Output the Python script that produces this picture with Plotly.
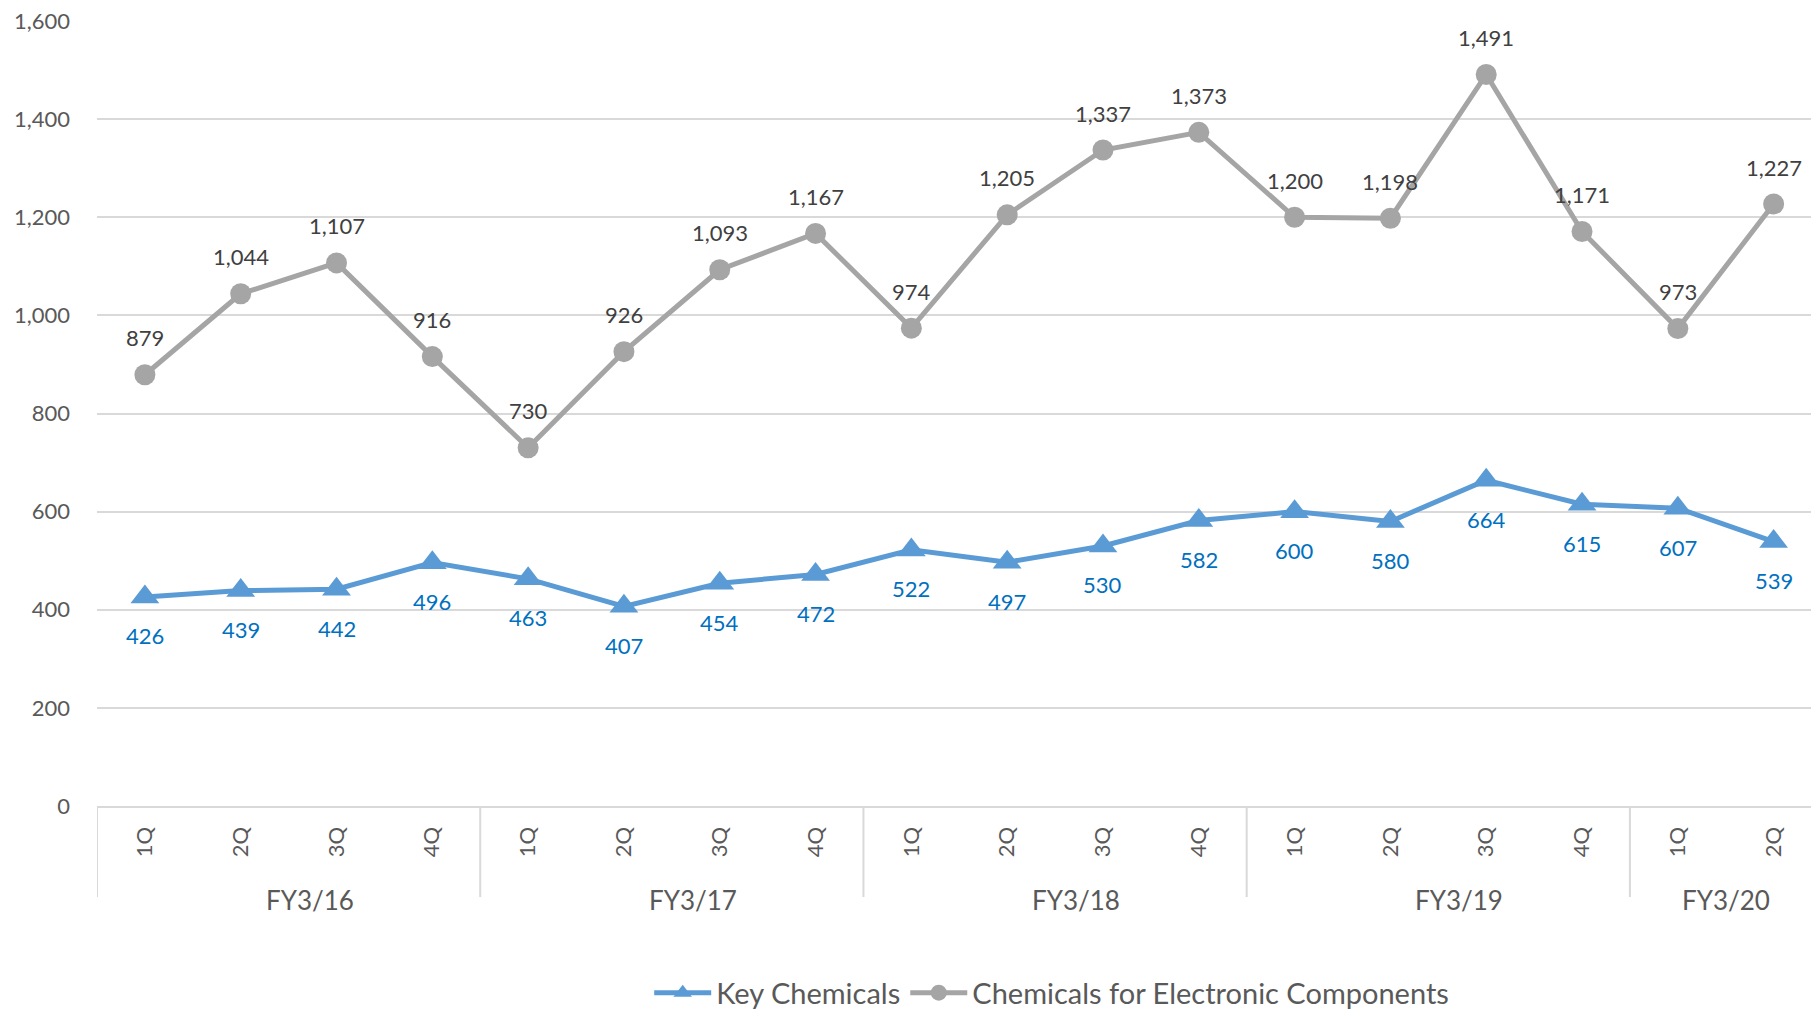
import plotly.graph_objects as go

# Quarterly figures by fiscal year
fiscal_years = ["FY3/16", "FY3/17", "FY3/18", "FY3/19", "FY3/20"]
quarters_per_year = [4, 4, 4, 4, 2]
quarter_labels = ["1Q", "2Q", "3Q", "4Q"] * 4 + ["1Q", "2Q"]

key_chemicals = [426, 439, 442, 496, 463, 407, 454, 472, 522, 497,
                 530, 582, 600, 580, 664, 615, 607, 539]
electronic_chemicals = [879, 1044, 1107, 916, 730, 926, 1093, 1167, 974, 1205,
                        1337, 1373, 1200, 1198, 1491, 1171, 973, 1227]

y_ticks = [0, 200, 400, 600, 800, 1000, 1200, 1400, 1600]

FONT = "Lato"
BLUE = "#5B9BD5"
GRAY = "#A5A5A5"
GRID = "#D9D9D9"
TXT = "#595959"

x_idx = list(range(len(quarter_labels)))

fig = go.Figure()

fig.add_trace(go.Scatter(
    x=x_idx, y=key_chemicals, name="Key Chemicals",
    mode="lines+markers",
    line=dict(color=BLUE, width=5),
    marker=dict(symbol="triangle-up", size=25, color=BLUE),
    cliponaxis=False,
))

fig.add_trace(go.Scatter(
    x=x_idx, y=electronic_chemicals, name="Chemicals for Electronic Components",
    mode="lines+markers",
    line=dict(color=GRAY, width=5),
    marker=dict(symbol="circle", size=21, color=GRAY),
    cliponaxis=False,
))

# Value labels: grey series above its points, blue series below
for xi, v in zip(x_idx, electronic_chemicals):
    fig.add_annotation(x=xi, y=v, text=f"{v:,}", showarrow=False,
                       yanchor="middle", yshift=37,
                       font=dict(family=FONT, size=22, color="#404040"))
for xi, v in zip(x_idx, key_chemicals):
    fig.add_annotation(x=xi, y=v, text=f"{v:,}", showarrow=False,
                       yanchor="middle", yshift=-39,
                       font=dict(family=FONT, size=22, color="#0070C0"))

# Fiscal-year group labels and dividers below the quarter axis
bottom = -0.116
start = 0
for fy, n in zip(fiscal_years, quarters_per_year):
    fig.add_shape(type="line", xref="x", yref="paper",
                  x0=start - 0.5, x1=start - 0.5, y0=0, y1=bottom,
                  line=dict(color=GRID, width=2))
    fig.add_annotation(x=start + (n - 1) / 2, y=-0.12, xref="x", yref="paper",
                       text=fy, showarrow=False, yanchor="middle",
                       xshift=21 if n == 4 else 0,
                       font=dict(family=FONT, size=26, color=TXT))
    start += n

fig.update_layout(
    width=1811, height=1009,
    margin=dict(l=97, r=0, t=21, b=203, autoexpand=False),
    paper_bgcolor="white", plot_bgcolor="white",
    font=dict(family=FONT, color=TXT),
    showlegend=True,
    legend=dict(orientation="h", x=0.557, xanchor="center", y=-0.238, yanchor="middle",
                font=dict(family=FONT, size=29, color=TXT), itemwidth=57,
                traceorder="normal"),
    xaxis=dict(range=[-0.5, 17.39], tickmode="array", tickvals=x_idx,
               ticktext=quarter_labels, tickangle=-90, showgrid=False,
               showline=True, linecolor=GRID, linewidth=2, zeroline=False,
               ticks="", ticklabelstandoff=10,
               tickfont=dict(family=FONT, size=22, color=TXT)),
    yaxis=dict(range=[0, 1600], tickmode="array", tickvals=y_ticks,
               tickformat=",", showgrid=True, gridcolor=GRID, gridwidth=2,
               zeroline=False, showline=False, ticks="", ticklabelstandoff=26,
               tickfont=dict(family=FONT, size=22, color=TXT)),
)

fig.write_html("out.html")
